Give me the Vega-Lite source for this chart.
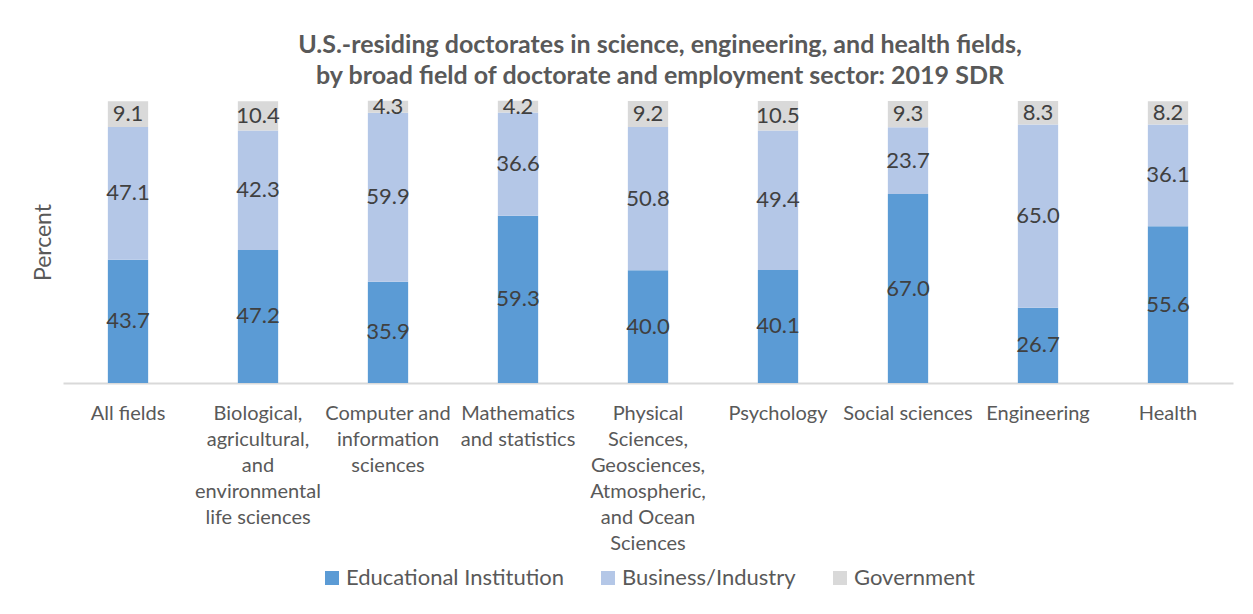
{
  "$schema": "https://vega.github.io/schema/vega-lite/v6.json",
  "width": 1170,
  "height": 282,
  "autosize": {"type": "none"},
  "padding": {"left": 63, "top": 101, "right": 20, "bottom": 231},
  "background": "white",
  "title": {
    "text": ["U.S.-residing doctorates in science, engineering, and health fields,", "by broad field of doctorate and employment sector: 2019 SDR"],
    "font": "Lato",
    "fontSize": 25,
    "fontWeight": "bold",
    "color": "#595959",
    "lineHeight": 31,
    "anchor": "middle",
    "dx": 12,
    "offset": 7
  },
  "data": {
    "values": [
      {"field": "All fields", "sector": "Educational Institution", "pct": 43.7},
      {"field": "All fields", "sector": "Business/Industry", "pct": 47.1},
      {"field": "All fields", "sector": "Government", "pct": 9.1},
      {"field": "Biological, agricultural, and environmental life sciences", "sector": "Educational Institution", "pct": 47.2},
      {"field": "Biological, agricultural, and environmental life sciences", "sector": "Business/Industry", "pct": 42.3},
      {"field": "Biological, agricultural, and environmental life sciences", "sector": "Government", "pct": 10.4},
      {"field": "Computer and information sciences", "sector": "Educational Institution", "pct": 35.9},
      {"field": "Computer and information sciences", "sector": "Business/Industry", "pct": 59.9},
      {"field": "Computer and information sciences", "sector": "Government", "pct": 4.3},
      {"field": "Mathematics and statistics", "sector": "Educational Institution", "pct": 59.3},
      {"field": "Mathematics and statistics", "sector": "Business/Industry", "pct": 36.6},
      {"field": "Mathematics and statistics", "sector": "Government", "pct": 4.2},
      {"field": "Physical Sciences, Geosciences, Atmospheric, and Ocean Sciences", "sector": "Educational Institution", "pct": 40.0},
      {"field": "Physical Sciences, Geosciences, Atmospheric, and Ocean Sciences", "sector": "Business/Industry", "pct": 50.8},
      {"field": "Physical Sciences, Geosciences, Atmospheric, and Ocean Sciences", "sector": "Government", "pct": 9.2},
      {"field": "Psychology", "sector": "Educational Institution", "pct": 40.1},
      {"field": "Psychology", "sector": "Business/Industry", "pct": 49.4},
      {"field": "Psychology", "sector": "Government", "pct": 10.5},
      {"field": "Social sciences", "sector": "Educational Institution", "pct": 67.0},
      {"field": "Social sciences", "sector": "Business/Industry", "pct": 23.7},
      {"field": "Social sciences", "sector": "Government", "pct": 9.3},
      {"field": "Engineering", "sector": "Educational Institution", "pct": 26.7},
      {"field": "Engineering", "sector": "Business/Industry", "pct": 65.0},
      {"field": "Engineering", "sector": "Government", "pct": 8.3},
      {"field": "Health", "sector": "Educational Institution", "pct": 55.6},
      {"field": "Health", "sector": "Business/Industry", "pct": 36.1},
      {"field": "Health", "sector": "Government", "pct": 8.2}
    ]
  },
  "encoding": {
    "x": {
      "field": "field",
      "type": "nominal",
      "sort": null,
      "scale": {"paddingInner": 0.69, "paddingOuter": 0.345},
      "axis": {
        "title": null,
        "labelAngle": 0,
        "labelFont": "Lato",
        "labelFontSize": 20,
        "labelColor": "#595959",
        "labelLineHeight": 26,
        "labelPadding": 20,
        "labelLimit": 200,
        "ticks": false,
        "domainColor": "#D9D9D9",
        "domainWidth": 2,
        "labelExpr": "datum.label == 'Biological, agricultural, and environmental life sciences' ? ['Biological,', 'agricultural,', 'and', 'environmental', 'life sciences'] : datum.label == 'Computer and information sciences' ? ['Computer and', 'information', 'sciences'] : datum.label == 'Mathematics and statistics' ? ['Mathematics', 'and statistics'] : datum.label == 'Physical Sciences, Geosciences, Atmospheric, and Ocean Sciences' ? ['Physical', 'Sciences,', 'Geosciences,', 'Atmospheric,', 'and Ocean', 'Sciences'] : datum.label"
      }
    },
    "y": {
      "field": "pct",
      "type": "quantitative",
      "stack": "zero",
      "scale": {"domain": [0, 100], "nice": false},
      "axis": {
        "title": "Percent",
        "titleFont": "Lato",
        "titleFontSize": 23,
        "titleFontWeight": "normal",
        "titleColor": "#595959",
        "titlePadding": 8,
        "labels": false,
        "ticks": false,
        "domain": false,
        "grid": false
      }
    },
    "order": {"field": "ord", "type": "quantitative"}
  },
  "transform": [
    {"calculate": "datum.sector == 'Educational Institution' ? 0 : datum.sector == 'Business/Industry' ? 1 : 2", "as": "ord"}
  ],
  "layer": [
    {
      "mark": {"type": "bar"},
      "encoding": {
        "color": {
          "field": "sector",
          "type": "nominal",
          "scale": {
            "domain": ["Educational Institution", "Business/Industry", "Government"],
            "range": ["#5B9BD5", "#B4C7E7", "#D9D9D9"]
          },
          "legend": {
            "title": null,
            "orient": "bottom",
            "direction": "horizontal",
            "symbolType": "square",
            "symbolSize": 196,
            "symbolStrokeWidth": 0,
            "labelFont": "Lato",
            "labelFontSize": 22,
            "labelColor": "#595959",
            "labelOffset": 3,
            "labelLimit": 400,
            "columnPadding": 33,
            "offset": 14
          }
        }
      }
    },
    {
      "mark": {"type": "text", "font": "Lato", "fontSize": 22, "color": "#404040", "baseline": "middle"},
      "encoding": {
        "y": {"field": "pct", "type": "quantitative", "stack": "zero", "bandPosition": 0.5},
        "text": {"field": "pct", "type": "quantitative", "format": ".1f"}
      }
    }
  ],
  "config": {
    "view": {"stroke": null},
    "legend": {"layout": {"bottom": {"anchor": "middle"}}}
  }
}
